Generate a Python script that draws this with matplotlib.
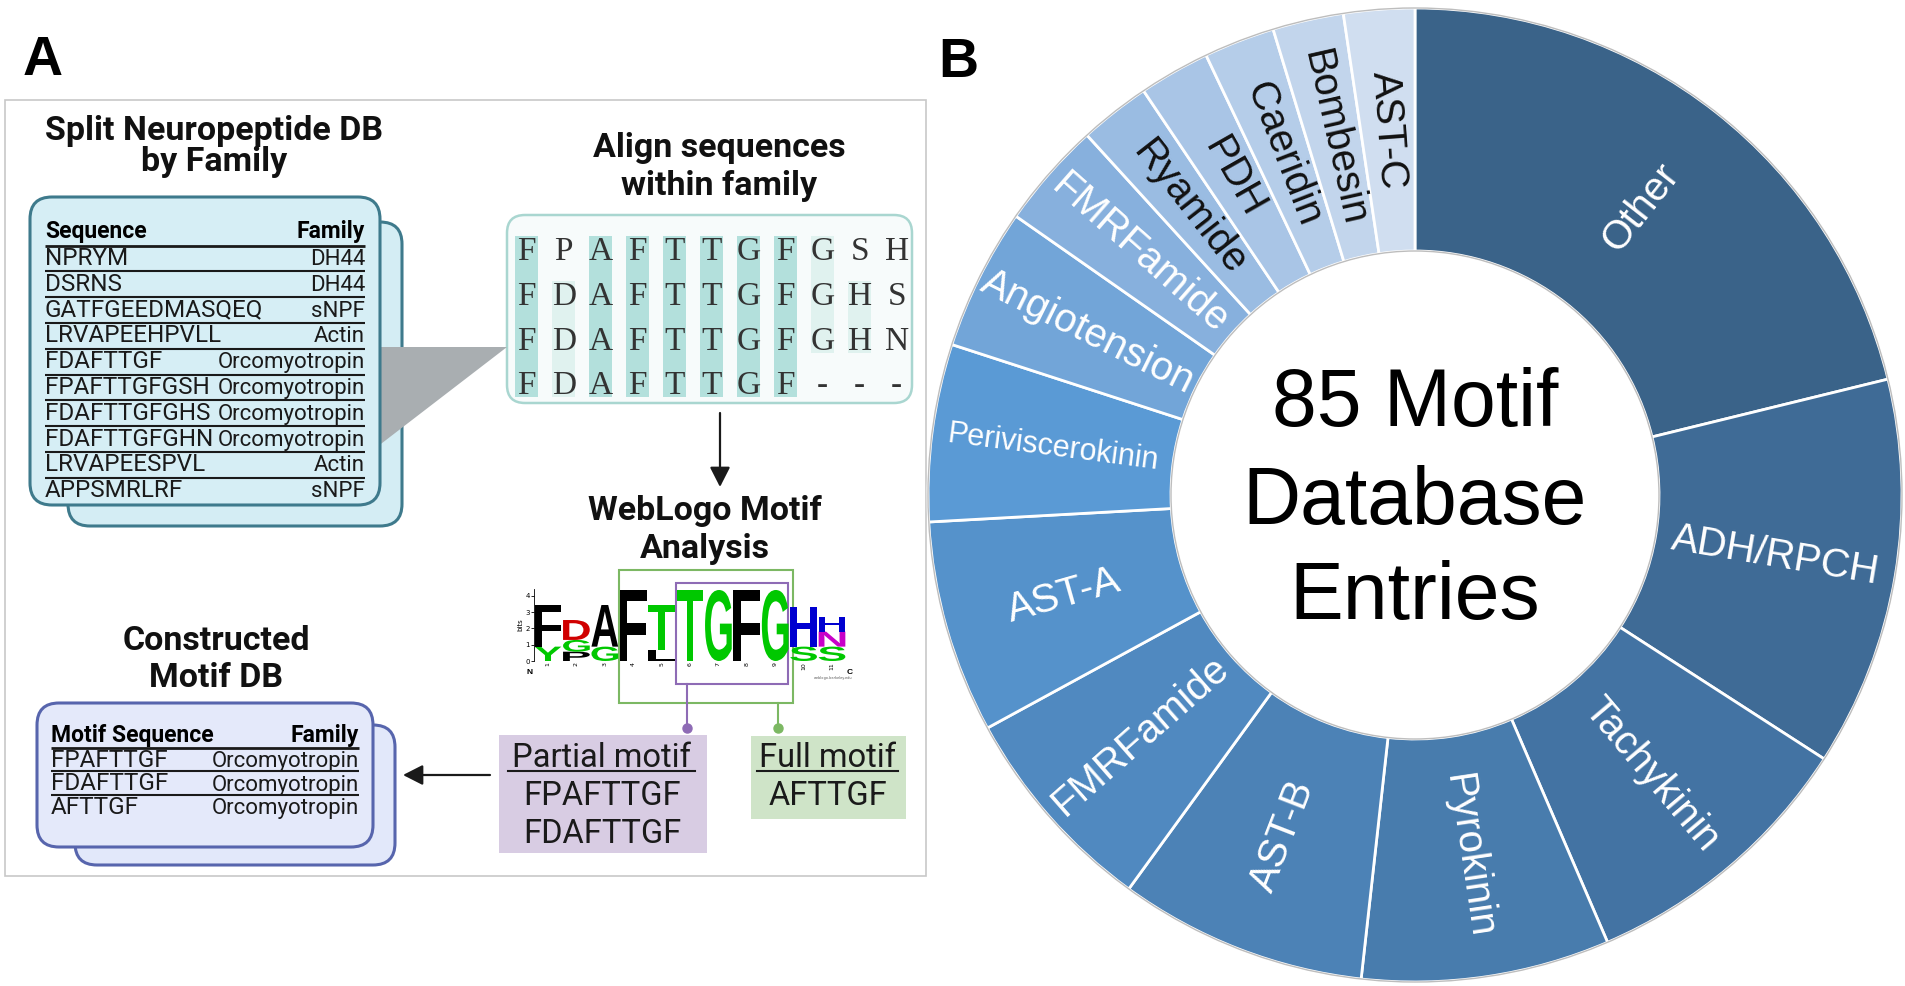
import matplotlib
matplotlib.use("Agg")
import matplotlib.pyplot as plt
import numpy as np
from matplotlib.patches import FancyBboxPatch, Rectangle, Polygon, Circle, PathPatch
from matplotlib.textpath import TextPath
from matplotlib.font_manager import FontProperties
from matplotlib.transforms import Affine2D

# ---------------- panel B data ----------------
families = ["Other", "ADH/RPCH", "Tachykinin", "Pyrokinin", "AST-B", "FMRFamide",
            "AST-A", "Periviscerokinin", "Angiotension", "FMRFamide", "Ryamide",
            "PDH", "Caeridin", "Bombesin", "AST-C"]
entries = [18, 11, 8, 7, 7, 6, 6, 5, 4, 3, 2, 2, 2, 2, 2]
wedge_colors = ["#3a6389", "#3f6b96", "#4373a3", "#487cad", "#4c82b6", "#5089c0",
                "#5592cb", "#5a9ad5", "#72a5d8", "#87b0dd", "#9abce2", "#a9c5e6",
                "#b5cde9", "#c2d5ec", "#d0def0"]
label_colors = ["white"] * 10 + ["#111111"] * 5
center_text = ["85 Motif", "Database", "Entries"]

# ---------------- panel A data ----------------
db_sequences = ["NPRYM", "DSRNS", "GATFGEEDMASQEQ", "LRVAPEEHPVLL", "FDAFTTGF",
                "FPAFTTGFGSH", "FDAFTTGFGHS", "FDAFTTGFGHN", "LRVAPEESPVL", "APPSMRLRF"]
db_families = ["DH44", "DH44", "sNPF", "Actin", "Orcomyotropin", "Orcomyotropin",
               "Orcomyotropin", "Orcomyotropin", "Actin", "sNPF"]
aligned = ["FPAFTTGFGSH", "FDAFTTGFGHS", "FDAFTTGFGHN", "FDAFTTGF---"]
# sequence logo: (letter, bits) from bottom to top for positions 1..11
logo_stacks = [
    [("Y", 0.88), ("F", 2.55)],
    [("P", 0.57), ("G", 0.72), ("D", 1.22)],
    [("G", 0.88), ("A", 2.55)],
    [("F", 4.35)],
    [("L", 0.67), ("T", 2.76)],
    [("T", 4.35)],
    [("G", 4.35)],
    [("F", 4.35)],
    [("G", 4.35)],
    [("S", 0.88), ("H", 2.45)],
    [("S", 0.88), ("N", 0.92), ("H", 0.90)],
]
logo_palette = {"G": "#00c800", "S": "#00c800", "T": "#00c800", "Y": "#00c800",
                "F": "#000000", "A": "#000000", "L": "#000000", "P": "#000000",
                "D": "#d00000", "H": "#0000d0", "N": "#c800c8"}
partial_motifs = ["FPAFTTGF", "FDAFTTGF"]
full_motifs = ["AFTTGF"]
motif_sequences = ["FPAFTTGF", "FDAFTTGF", "AFTTGF"]
motif_families = ["Orcomyotropin", "Orcomyotropin", "Orcomyotropin"]

ROBOTO = ["Roboto", "DejaVu Sans"]
ARIAL = ["Liberation Sans", "DejaVu Sans"]
TITLE_SIZE = 24.5
HEAD_SIZE = 16.5
SEQ_SIZE = 17.5
FAM_SIZE = 16

fig = plt.figure(figsize=(19.05, 9.86), dpi=100)
ax = fig.add_axes([0, 0, 1, 1])
ax.set_xlim(0, 1905)
ax.set_ylim(986, 0)
ax.axis("off")


def rbox(x0, y0, x1, y1, fc, ec, lw=2.2, r=22, z=1):
    p = FancyBboxPatch((x0, y0), x1 - x0, y1 - y0,
                       boxstyle=f"round,pad=0,rounding_size={r}",
                       fc=fc, ec=ec, lw=lw, zorder=z)
    ax.add_patch(p)


def title(x, y1, y2, l1, l2):
    for y, s in ((y1, l1), (y2, l2)):
        ax.text(x, y, s, ha="center", va="baseline", fontsize=TITLE_SIZE,
                fontweight="bold", family=ROBOTO, color="#111111")


def table(x0, x1, y_head, y_line0, pitch, head, seqs, fams):
    ax.text(x0, y_head, head, fontsize=HEAD_SIZE, fontweight="bold",
            family=ROBOTO, va="baseline", zorder=4)
    ax.text(x1, y_head, "Family", fontsize=HEAD_SIZE, fontweight="bold",
            family=ROBOTO, ha="right", va="baseline", zorder=4)
    for k, (seq, fam) in enumerate(zip(seqs, fams)):
        ly = y_line0 + pitch * k
        ax.plot([x0, x1], [ly, ly], color="#1a1a1a", lw=2.0 if k == 0 else 1.5,
                zorder=4, solid_capstyle="butt")
        ax.text(x0, ly + 19.5, seq, fontsize=SEQ_SIZE, family=ROBOTO,
                va="baseline", color="#1a1a1a", zorder=4)
        ax.text(x1, ly + 19.5, fam, fontsize=FAM_SIZE, family=ROBOTO, ha="right",
                va="baseline", color="#1a1a1a", zorder=4)


# panel frame
ax.add_patch(Rectangle((5, 100), 921, 776, fc="none", ec="#c8c8c8", lw=1.2))
ax.text(43, 61, "A", ha="center", va="center", fontsize=40, fontweight="bold",
        family=ARIAL)
ax.text(958, 63, "B", ha="center", va="center", fontsize=40, fontweight="bold",
        family=ARIAL)

# ---- split neuropeptide DB ----
title(214, 140, 171, "Split Neuropeptide DB", "by Family")
rbox(68, 222, 402, 526, "#d4edf4", "#3e7a8c", z=1)
ax.add_patch(Polygon([(360, 347), (507, 347), (360, 460)], fc="#a9aeb1",
                     ec="none", zorder=2))
rbox(30, 197, 380, 505, "#d6eef5", "#3e7a8c", z=3)
table(45, 365, 238, 245.5, 25.8, "Sequence", db_sequences, db_families)

# ---- alignment ----
title(719, 157, 195, "Align sequences", "within family")
rbox(507, 215, 912, 403, "#f7fbfb", "#a9d6d0", lw=1.8, r=18, z=1)
col_x = [526.7 + 37.0 * j for j in range(len(aligned[0]))]
row_y = [250 + 44.8 * i for i in range(len(aligned))]
for j, cx in enumerate(col_x):
    col = [s[j] for s in aligned]
    letters = [c for c in col if c != "-"]
    best = max(sorted(set(letters)), key=letters.count)
    n = letters.count(best)
    if n < 2:
        continue
    shade = "#b3e0dc" if n == len(aligned) else "#e0f2ef"
    rows = [i for i, c in enumerate(col) if c == best]
    runs = []
    for i in rows:
        if runs and runs[-1][-1] == i - 1:
            runs[-1].append(i)
        else:
            runs.append([i])
    for run in runs:
        top = row_y[run[0]] - 14
        bot = row_y[run[-1]] + 13
        ax.add_patch(Rectangle((cx - 11.5, top), 23, bot - top, fc=shade,
                               ec="none", zorder=2))
for i, seq in enumerate(aligned):
    for j, ch in enumerate(seq):
        ax.text(col_x[j], row_y[i] + 10, ch, ha="center", va="baseline",
                fontsize=24, family=["Liberation Serif", "DejaVu Serif"],
                color="#333333", zorder=3)

ax.annotate("", xy=(720, 487), xytext=(720, 413),
            arrowprops=dict(arrowstyle="-|>,head_length=0.55,head_width=0.28",
                            lw=1.6, color="#1a1a1a", shrinkA=0, shrinkB=0,
                            mutation_scale=22))

# ---- weblogo ----
title(705, 520, 558, "WebLogo Motif", "Analysis")
ax_logo = fig.add_axes([533.8 / 1905, (986 - 661) / 986, 312.4 / 1905, 72 / 986])
ax_logo.set_xlim(0.5, len(logo_stacks) + 0.5)
ax_logo.set_ylim(0, 4.41)
logo_font = FontProperties(family="Liberation Sans", weight="bold")
for pos, stack in enumerate(logo_stacks, start=1):
    base = 0.0
    for ch, h in stack:
        tp = TextPath((0, 0), ch, size=1, prop=logo_font)
        bb = tp.get_extents()
        w = 0.94
        tr = (Affine2D().translate(-bb.x0, -bb.y0)
              .scale(w / bb.width, h / bb.height)
              .translate(pos - w / 2, base))
        ax_logo.add_patch(PathPatch(tr.transform_path(tp), fc=logo_palette[ch],
                                    ec="none", lw=0))
        base += h
for side in ["top", "right", "bottom"]:
    ax_logo.spines[side].set_visible(False)
ax_logo.spines["left"].set_linewidth(0.6)
ax_logo.set_yticks([0, 1, 2, 3, 4])
ax_logo.tick_params(axis="y", labelsize=5, length=2, width=0.6, pad=1)
ax_logo.set_xticks(range(1, len(logo_stacks) + 1))
ax_logo.set_xticklabels([str(i) for i in range(1, len(logo_stacks) + 1)],
                        rotation=90, fontsize=4.5)
ax_logo.tick_params(axis="x", length=0, pad=1)
ax_logo.set_ylabel("bits", fontsize=5, labelpad=1)
ax_logo.patch.set_alpha(0)
ax.text(530, 672, "N", ha="center", va="center", fontsize=6, fontweight="bold",
        family=ARIAL)
ax.text(850, 672, "C", ha="center", va="center", fontsize=6, fontweight="bold",
        family=ARIAL)
ax.text(833, 678, "weblogo.berkeley.edu", ha="center", va="center", fontsize=2.5,
        color="#555555")

# motif boxes over the logo
ax.add_patch(Rectangle((618.7, 570), 174, 133, fc="none", ec="#7cb863", lw=1.5,
                       zorder=5))
ax.add_patch(Rectangle((675.7, 583.3), 112.6, 101, fc="none", ec="#8e6bb5", lw=1.5,
                       zorder=5))
ax.plot([686.7, 686.7], [684.3, 728], color="#8e6bb5", lw=1.5, zorder=5)
ax.plot([686.7], [728], "o", ms=6.5, color="#8e6bb5", zorder=5)
ax.plot([778.3, 778.3], [703, 728], color="#7cb863", lw=1.5, zorder=5)
ax.plot([778.3], [728], "o", ms=6.5, color="#7cb863", zorder=5)

# partial / full motif panels
ax.add_patch(Rectangle((499, 735), 208, 118, fc="#d8cce3", ec="none", zorder=1))
ax.text(602, 766.7, "Partial motif", ha="center", va="baseline", fontsize=23.5,
        family=ROBOTO, color="#1a1a1a", zorder=3)
ax.plot([508, 695], [771, 771], color="#1a1a1a", lw=1.5, zorder=3)
for k, m in enumerate(partial_motifs):
    ax.text(602, 805 + 38.3 * k, m, ha="center", va="baseline", fontsize=23.5,
            family=ROBOTO, color="#1a1a1a", zorder=3)
ax.add_patch(Rectangle((751, 736), 155, 83, fc="#cfe4c8", ec="none", zorder=1))
ax.text(828, 766.7, "Full motif", ha="center", va="baseline", fontsize=23.5,
        family=ROBOTO, color="#1a1a1a", zorder=3)
ax.plot([757, 898], [771, 771], color="#1a1a1a", lw=1.5, zorder=3)
for k, m in enumerate(full_motifs):
    ax.text(828, 805 + 38.3 * k, m, ha="center", va="baseline", fontsize=23.5,
            family=ROBOTO, color="#1a1a1a", zorder=3)

ax.annotate("", xy=(403, 775), xytext=(490, 775),
            arrowprops=dict(arrowstyle="-|>,head_length=0.55,head_width=0.28",
                            lw=1.6, color="#1a1a1a", shrinkA=0, shrinkB=0,
                            mutation_scale=22))

# ---- constructed motif DB ----
title(216, 650, 687, "Constructed", "Motif DB")
rbox(75, 725, 395, 865, "#e2e8fa", "#5765ad", z=1)
rbox(37, 703, 373, 847, "#e4e9fa", "#5765ad", z=2)
table(51, 359, 741.7, 747.5, 23.5, "Motif Sequence", motif_sequences,
      motif_families)

# ---------------- panel B: donut ----------------
R_OUT, R_IN = 487, 244
ax_b = fig.add_axes([915 / 1905, -9 / 986, 1000 / 1905, 1000 / 986])
ax_b.pie(entries, radius=R_OUT, startangle=90, counterclock=False,
         colors=wedge_colors,
         wedgeprops=dict(width=R_OUT - R_IN, edgecolor="white", linewidth=2.0))
ax_b.set_xlim(-500, 500)
ax_b.set_ylim(-500, 500)
ax_b.add_patch(Circle((0, 0), R_OUT, fc="none", ec="#bdbdbd", lw=1.0))
ax_b.add_patch(Circle((0, 0), R_IN, fc="none", ec="#bdbdbd", lw=1.0))

bounds = np.concatenate([[0], np.cumsum(entries)]) / sum(entries) * 360
r_mid = (R_OUT + R_IN) / 2
small_labels = {"Periviscerokinin": 22}
for i, name in enumerate(families):
    mid = (bounds[i] + bounds[i + 1]) / 2
    theta = (90 - mid) % 360
    rad = np.deg2rad(theta)
    rot = theta + 180 if 90 < theta < 270 else theta
    ax_b.text(r_mid * np.cos(rad), r_mid * np.sin(rad), name,
              rotation=rot, rotation_mode="anchor", ha="center", va="center",
              fontsize=small_labels.get(name, 29), family=ARIAL,
              color=label_colors[i])

for y, line in zip([69, -29, -124], center_text):
    ax_b.text(0, y, line, ha="center", va="baseline", fontsize=58, family=ARIAL,
              color="black")

fig.savefig("out.png", dpi=100)
